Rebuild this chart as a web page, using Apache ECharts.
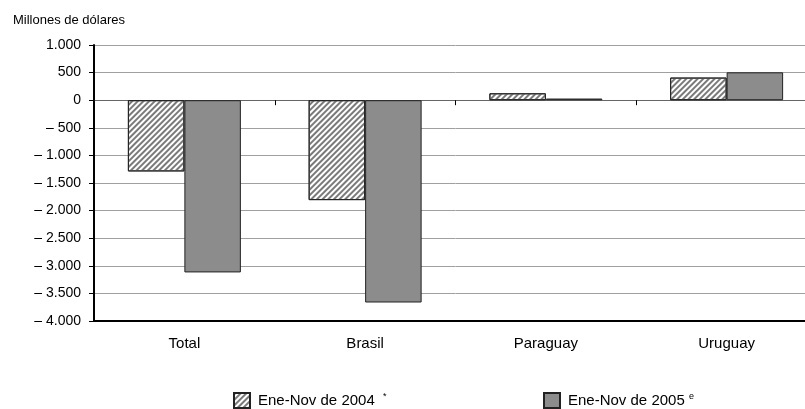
<!DOCTYPE html>
<html>
<head>
<meta charset="utf-8">
<script src="https://cdn.jsdelivr.net/npm/echarts@6/dist/echarts.min.js"></script>
<style>html,body{margin:0;padding:0;background:#fff;overflow:hidden;width:805px;height:409px;}#c{width:817px;height:409px;}</style>
</head>
<body>
<div id="c"></div>
<script>
var categories = ['Total', 'Brasil', 'Paraguay', 'Uruguay'];
var seriesNames = ['Ene-Nov de 2004', 'Ene-Nov de 2005'];
var seriesSup = ['*', 'e'];
var values2004 = [-1290, -1810, 125, 410];
var values2005 = [-3120, -3665, 30, 505];
var yTicks = [1000, 500, 0, -500, -1000, -1500, -2000, -2500, -3000, -3500, -4000];
var unitLabel = 'Millones de dólares';

function fmt(v) {
  var a = Math.abs(v);
  var s = String(a).replace(/\B(?=(\d{3})+(?!\d))/g, '.');
  return v < 0 ? '\u2013 ' + s : s;
}

var chart = echarts.init(document.getElementById('c'), null, {renderer: 'canvas'});
var font = 'Liberation Sans, Arial, sans-serif';
var hatch = {
  symbol: 'rect',
  symbolSize: 1,
  dashArrayX: [1, 0],
  dashArrayY: [1.2, 1.8],
  rotation: -Math.PI / 4,
  color: '#7a7a7a'
};
var legendText = {
  fontFamily: font, fontSize: 15, color: '#000', padding: [0, 0, 0, 3],
  rich: { sup: { fontFamily: font, fontSize: 9, color: '#000', verticalAlign: 'top', padding: [0, 0, 8, 0] } }
};
chart.setOption({
  animation: false,
  backgroundColor: '#fff',
  title: {
    text: unitLabel, left: 8, top: 9,
    textStyle: {fontFamily: font, fontSize: 13, fontWeight: 'normal', color: '#000'}
  },
  legend: [
    {
      data: [seriesNames[0]], left: 228, top: 387, itemWidth: 16, itemHeight: 15, itemGap: 10,
      icon: 'rect',
      textStyle: legendText,
      formatter: function (n) { return n + '  {sup|' + seriesSup[0] + '}'; }
    },
    {
      data: [seriesNames[1]], left: 538, top: 387, itemWidth: 16, itemHeight: 15, itemGap: 10,
      icon: 'rect',
      textStyle: legendText,
      formatter: function (n) { return n + ' {sup|' + seriesSup[1] + '}'; }
    }
  ],
  grid: {left: 94, right: 0, top: 45, bottom: 88, containLabel: false},
  xAxis: [
    {
      type: 'category', data: categories,
      axisLine: {onZero: true, lineStyle: {color: '#666', width: 1}},
      axisTick: {show: true, length: 5, lineStyle: {color: '#000'}},
      axisLabel: {show: false},
      splitLine: {show: false}
    },
    {
      type: 'category', data: categories, position: 'bottom',
      axisLine: {onZero: false, lineStyle: {color: '#000', width: 2}},
      axisTick: {show: false},
      axisLabel: {show: true, margin: 15, fontFamily: font, fontSize: 15, color: '#000'}
    }
  ],
  yAxis: {
    type: 'value', min: -4000, max: 1000, interval: 500,
    axisLine: {show: true, lineStyle: {color: '#000', width: 2}},
    axisTick: {show: true, length: 5, lineStyle: {color: '#000'}},
    axisLabel: {margin: 13, fontFamily: font, fontSize: 14, color: '#000',
      formatter: function (v) { return fmt(v); }},
    splitLine: {show: true, lineStyle: {color: '#a0a0a0', width: 1}}
  },
  series: [
    {
      name: seriesNames[0], type: 'bar', data: values2004, xAxisIndex: 0,
      barGap: 0, barCategoryGap: '37.5%',
      itemStyle: {color: '#ffffff', borderColor: '#222', borderWidth: 1, decal: hatch}
    },
    {
      name: seriesNames[1], type: 'bar', data: values2005, xAxisIndex: 0,
      barGap: 0, barCategoryGap: '37.5%',
      itemStyle: {color: '#8c8c8c', borderColor: '#222', borderWidth: 1}
    }
  ]
});
</script>
</body>
</html>
